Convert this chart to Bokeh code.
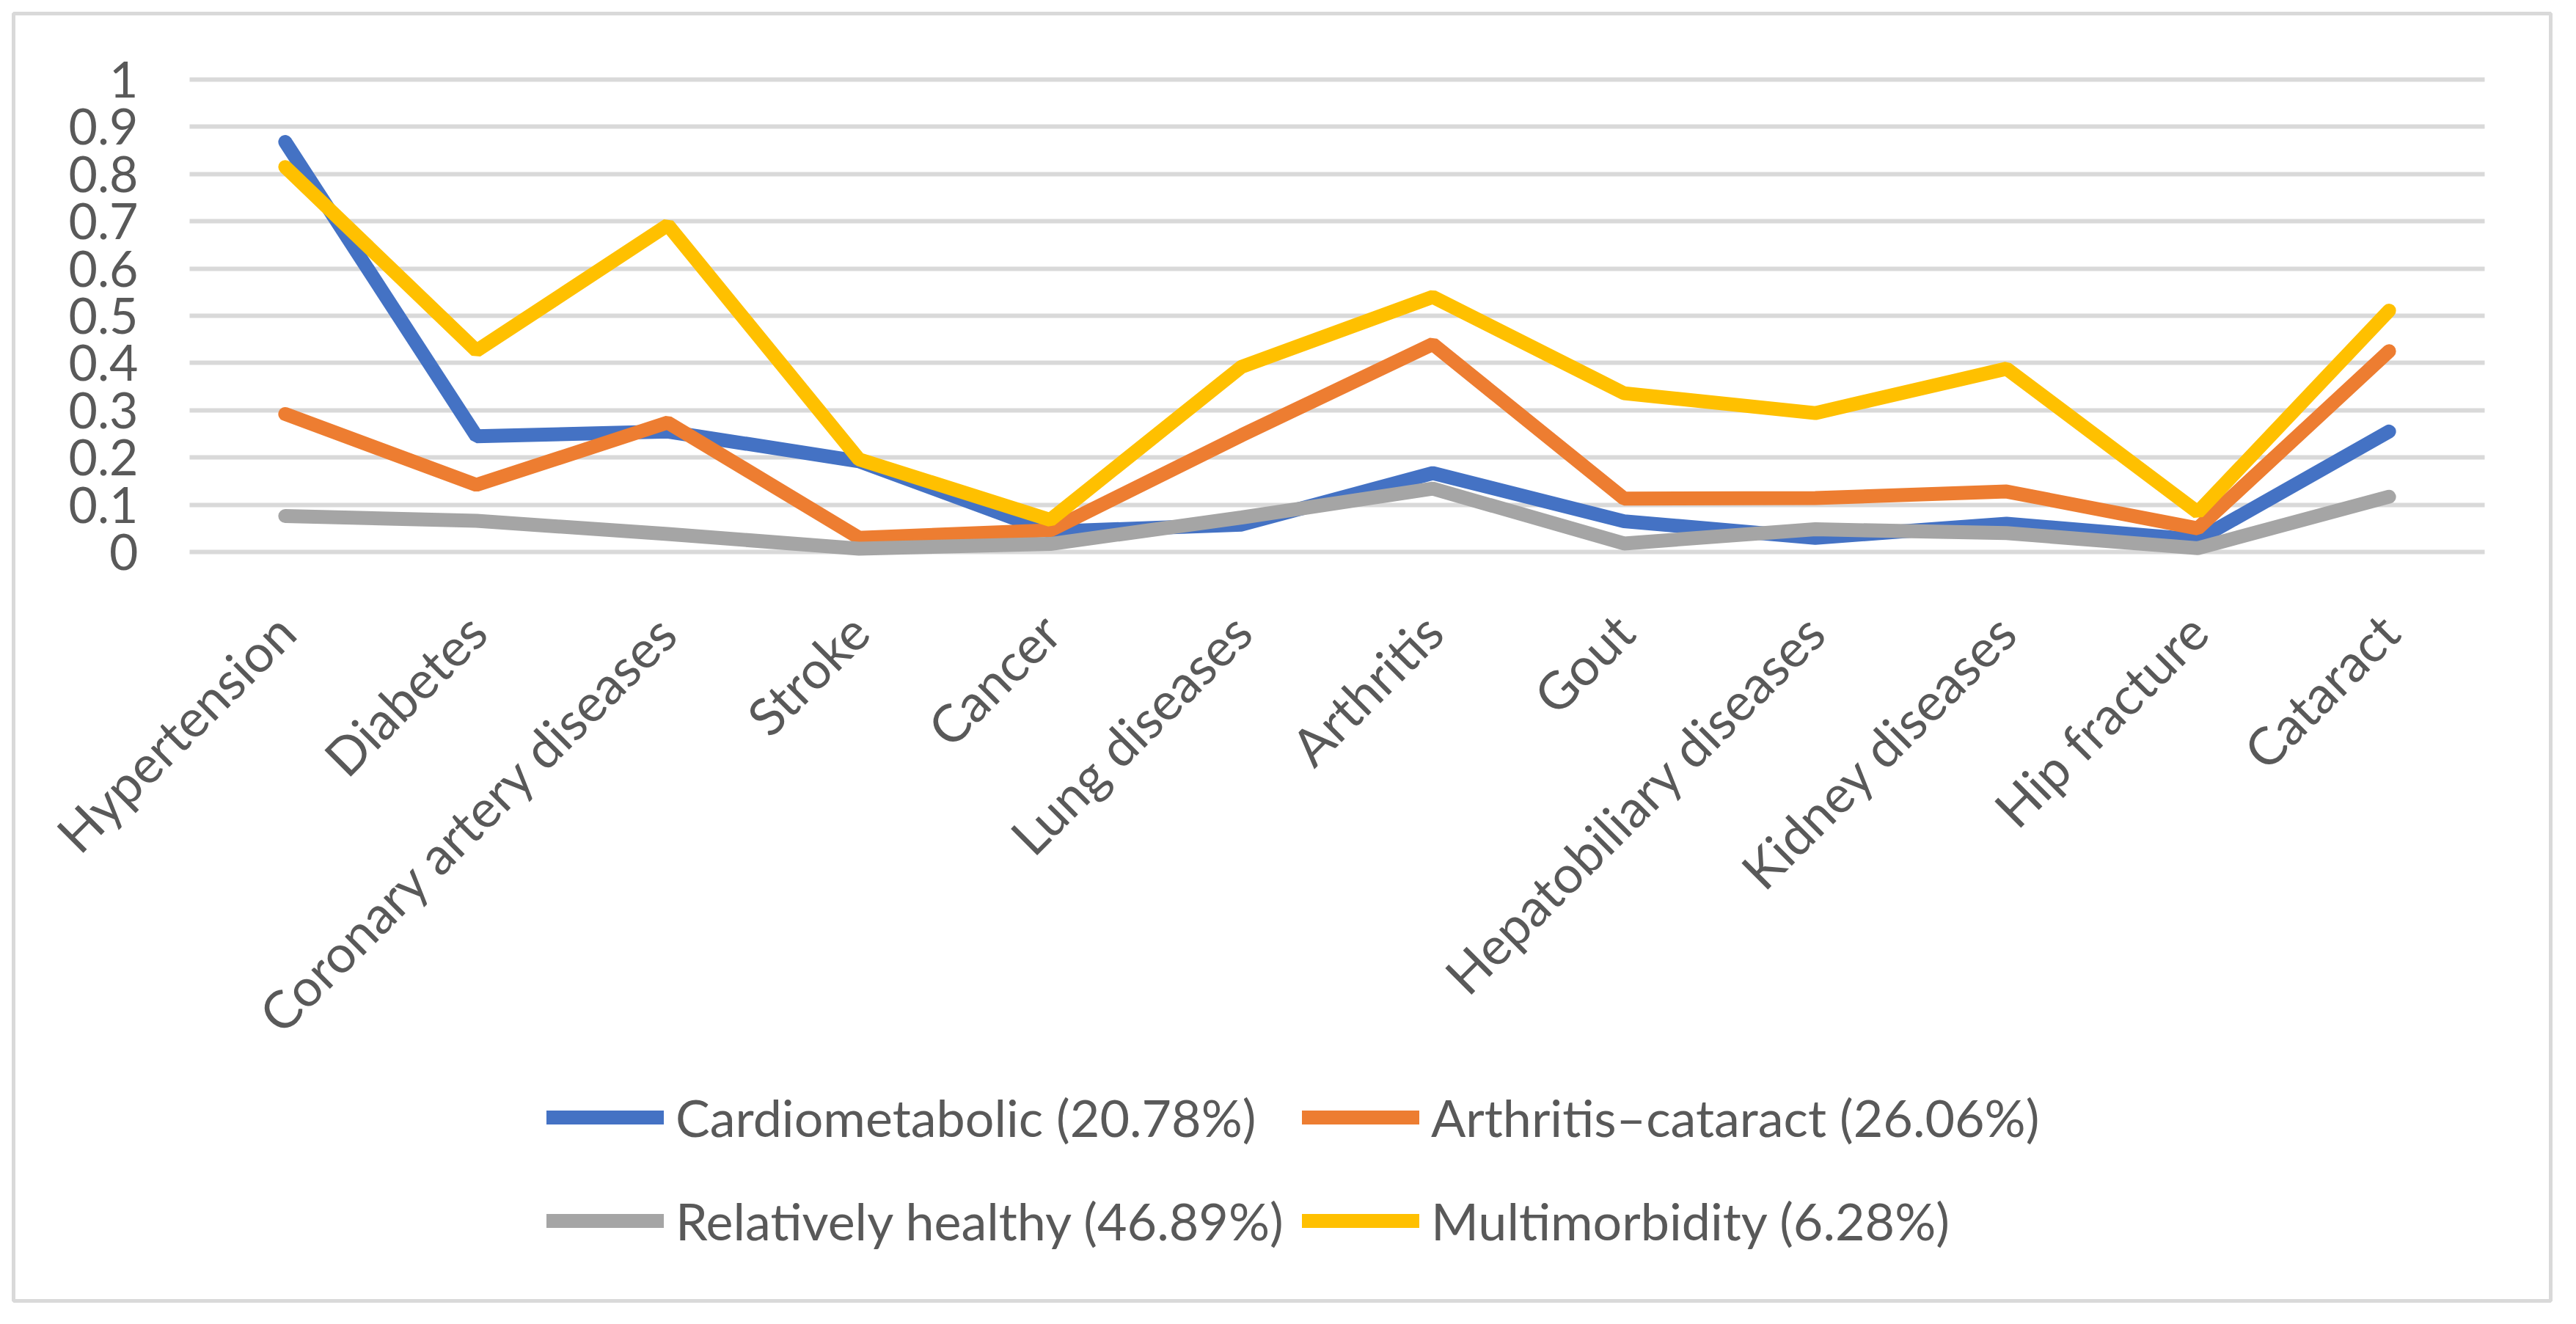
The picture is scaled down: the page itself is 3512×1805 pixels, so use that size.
from bokeh.plotting import figure
from bokeh.models import Range1d, Legend, LegendItem, FixedTicker, LinearAxis
from bokeh.embed import file_html
from bokeh.resources import INLINE
import math

categories = ["Hypertension", "Diabetes", "Coronary artery diseases", "Stroke", "Cancer",
              "Lung diseases", "Arthritis", "Gout", "Hepatobiliary diseases",
              "Kidney diseases", "Hip fracture", "Cataract"]

cardiometabolic = [0.868, 0.245, 0.255, 0.192, 0.043, 0.058, 0.167, 0.065, 0.030, 0.060, 0.026, 0.255]
arthritis_cataract = [0.292, 0.142, 0.274, 0.030, 0.046, 0.247, 0.440, 0.113, 0.114, 0.128, 0.050, 0.425]
relatively_healthy = [0.076, 0.066, 0.038, 0.007, 0.017, 0.073, 0.134, 0.018, 0.048, 0.040, 0.008, 0.117]
multimorbidity = [0.815, 0.426, 0.692, 0.196, 0.068, 0.392, 0.540, 0.336, 0.294, 0.388, 0.084, 0.511]

series_names = ["Cardiometabolic (20.78%)", "Arthritis\u2013cataract (26.06%)",
                "Relatively healthy (46.89%)", "Multimorbidity (6.28%)"]
series_values = [cardiometabolic, arthritis_cataract, relatively_healthy, multimorbidity]
series_colors = ["#4472C4", "#ED7D31", "#A5A5A5", "#FFC000"]

y_ticks = [0, 0.1, 0.2, 0.3, 0.4, 0.5, 0.6, 0.7, 0.8, 0.9, 1]
y_tick_labels = ["0", "0.1", "0.2", "0.3", "0.4", "0.5", "0.6", "0.7", "0.8", "0.9", "1"]

FONT = "Lato"
TEXT_COLOR = "#595959"

# category positions on a numeric scale (one unit per category)
x_pos = list(range(len(categories)))
PX_PER_CAT = 260.75      # pixel width of one category slot
PX_PER_UNIT_Y = 644.0    # pixel height of one y unit
FRAME_L, FRAME_R, FRAME_T, FRAME_B = 18, 3477, 18, 1773   # outer box (canvas px)
PLOT_L, Y0_PX, Y1_PX = 258, 752, 108                      # inner plot area

W, H = 3496, 1789
x_start = -0.5 - (PLOT_L - FRAME_L) / PX_PER_CAT
x_end = x_start + (FRAME_R - FRAME_L) / PX_PER_CAT
y_end = 1 + (Y1_PX - FRAME_T) / PX_PER_UNIT_Y
y_start = -(FRAME_B - Y0_PX) / PX_PER_UNIT_Y

p = figure(width=W, height=H, x_range=Range1d(x_start, x_end), y_range=Range1d(y_start, y_end),
           output_backend="svg", toolbar_location=None,
           x_axis_location=None, y_axis_location=None,
           min_border_left=FRAME_L, min_border_right=W - FRAME_R,
           min_border_top=FRAME_T, min_border_bottom=H - FRAME_B)
p.outline_line_color = "#D9D9D9"
p.outline_line_width = 5
p.background_fill_color = "white"
p.border_fill_color = "white"
p.grid.visible = False

# value axis: its long inward ticks form the horizontal gridlines across the category span
yaxis = LinearAxis(fixed_location=-0.5, ticker=FixedTicker(ticks=y_ticks),
                   major_label_overrides=dict(zip(y_ticks, y_tick_labels)),
                   axis_line_color=None, minor_tick_line_color=None,
                   major_tick_out=0, major_tick_in=int(round(len(categories) * PX_PER_CAT)),
                   major_tick_line_color="#D9D9D9", major_tick_line_width=6,
                   major_label_standoff=70, major_label_text_font=FONT,
                   major_label_text_font_size="68px", major_label_text_color=TEXT_COLOR,
                   level="underlay")
p.add_layout(yaxis, "left")

xaxis = LinearAxis(fixed_location=0, ticker=FixedTicker(ticks=x_pos),
                   major_label_overrides=dict(zip(x_pos, categories)),
                   axis_line_color=None, major_tick_line_color=None, minor_tick_line_color=None,
                   major_label_orientation=math.pi / 4, major_label_standoff=90,
                   major_label_text_font=FONT, major_label_text_font_size="71px",
                   major_label_text_color=TEXT_COLOR, level="underlay")
p.add_layout(xaxis, "below")

renderers = []
for vals, color in zip(series_values, series_colors):
    r = p.line(x_pos, vals, line_color=color, line_width=19, line_cap="round")
    renderers.append(r)

# legend: 2x2 grid, one legend per entry (offsets from the outer box's bottom-left)
leg_pos = [(727, 207), (1757, 207), (727, 66), (1757, 66)]
for r, name, pos in zip(renderers, series_names, leg_pos):
    lg = Legend(items=[LegendItem(label=name, renderers=[r])], location=pos,
                glyph_width=160, glyph_height=86, label_height=86, label_standoff=16,
                padding=0, margin=0, spacing=0, border_line_color=None,
                background_fill_alpha=0, label_text_font=FONT, label_text_font_size="70px",
                label_text_color=TEXT_COLOR)
    p.add_layout(lg, "center")

open("out.html", "w").write(file_html(p, INLINE))
